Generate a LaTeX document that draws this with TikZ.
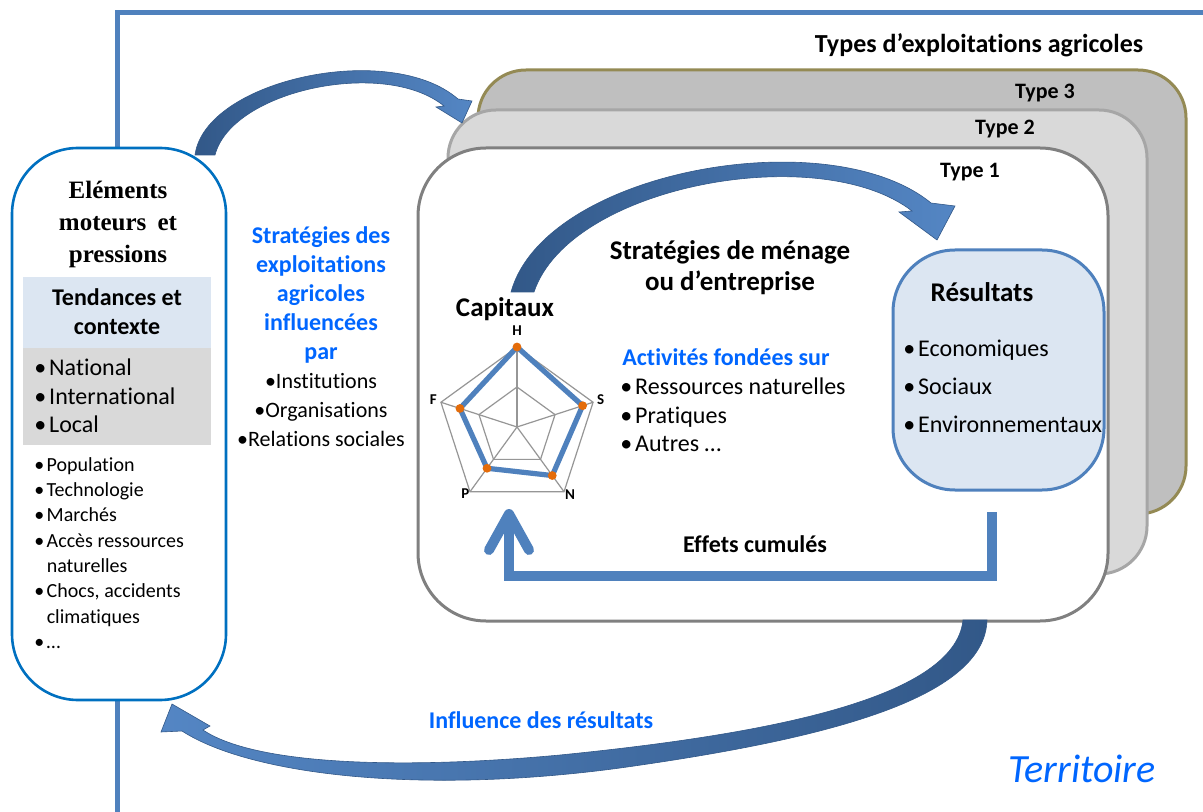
\documentclass[tikz,border=0pt]{standalone}
\usepackage{fontspec}
\setmainfont{Carlito}[Ligatures=NoCommon]
\newfontfamily\serifhead{Liberation Serif}
\usetikzlibrary{positioning, arrows.meta}

\definecolor{frameblue}{RGB}{79,129,189}
\definecolor{boxblue}{RGB}{0,112,192}
\definecolor{paleblue}{RGB}{220,230,242}
\definecolor{textblue}{RGB}{0,102,255}
\definecolor{ribbondark}{RGB}{50,88,136}
\definecolor{ribbonlight}{RGB}{84,134,196}
\definecolor{olive}{RGB}{148,138,84}
\definecolor{greythree}{RGB}{191,191,191}
\definecolor{greytwo}{RGB}{217,217,217}
\definecolor{greyline}{RGB}{166,166,166}
\definecolor{greyone}{RGB}{128,128,128}
\definecolor{gridgrey}{RGB}{150,150,150}
\definecolor{markorange}{RGB}{228,108,10}

\newcommand\sz[2]{\fontsize{#1}{#2}\selectfont}
\newcommand\bul{\textbullet\hspace{0.12em}}

\begin{document}
\begin{tikzpicture}[x=0.5pt, y=-0.5pt,
  lbl/.style={inner sep=0pt},
  head/.style={lbl, font=\sz{12}{14.5}\bfseries},
  bighead/.style={lbl, font=\sz{13.5}{15}\bfseries},
  body/.style={lbl, font=\sz{12}{14.2}, align=left},
  bluetext/.style={text=textblue},
  typebox/.style={line width=1.5pt, rounded corners=24pt},
  axis/.style={draw=gridgrey, line width=0.6pt},
  axislabel/.style={lbl, font=\sz{7.5}{9}\bfseries},
  flow/.style={draw=frameblue, line width=5pt,
    -{Straight Barb[length=18pt, width=20pt, round]}},
  ribbon/.style={draw=ribbondark, line width=0.3pt,
    left color=ribbondark, right color=ribbonlight}]
\useasboundingbox (0,0) rectangle (1203,812);

% territory frame
\draw[frameblue, line width=2.5pt] (117,816) -- (117,13) -- (1207,13);
\node[lbl, font=\sz{20}{24}\itshape, text=textblue] (territory) at (1082,769) {Territoire};

% farm types, stacked
\draw[typebox, draw=olive, fill=greythree] (478,70) rectangle (1186,514);
\draw[typebox, draw=greyline, fill=greytwo] (448,110) rectangle (1147,574);
\draw[typebox, draw=greyone, fill=white, rounded corners=34pt] (418,148) rectangle (1108,621);
\node[lbl, font=\sz{13}{15}\bfseries] (types) at (979,45) {Types d’exploitations agricoles};
\node[head, font=\sz{11}{13}\bfseries] (type3) at (1045,93) {Type 3};
\node[head, font=\sz{11}{13}\bfseries] (type2) at (1005,129) {Type 2};
\node[head, font=\sz{11}{13}\bfseries] (type1) at (970,172) {Type 1};

% drivers and pressures
\draw[boxblue, line width=1.3pt, fill=white, rounded corners=33pt] (12,148) rectangle (226,700);
\fill[paleblue] (23,277) rectangle (211,348);
\fill[greytwo] (23,348) rectangle (211,445);
\node[lbl, font=\serifhead\sz{12.5}{16}\bfseries, align=center] (drivers) at (118,224)
  {Eléments\\moteurs\hspace{0.45em}et\\pressions};
\node[head, align=center] (trends) at (117,312) {Tendances et\\contexte};
\node[body, font=\sz{12}{14.25}, anchor=west] (scales) at (34,396)
  {\bul National\\\bul International\\\bul Local};
\node[body, font=\sz{10}{12.65}, anchor=west] (factors) at (34,553)
  {\bul Population\\\bul Technologie\\\bul Marchés\\\bul Accès ressources\\
   \phantom{\bul}naturelles\\\bul Chocs, accidents\\\phantom{\bul}climatiques\\\bul …};

% strategies under influence
\node[head, bluetext, align=center] (influence) at (321,295)
  {Stratégies des\\exploitations\\agricoles\\influencées\\par};
\node[lbl, font=\sz{11}{14.3}, align=center] (actors) at (321,410)
  {\textbullet Institutions\\\textbullet Organisations\\\textbullet Relations sociales};

% household strategies and activities
\node[lbl, font=\sz{13.5}{15.5}\bfseries, align=center] (strategy) at (730,268)
  {Stratégies de ménage\\ou d’entreprise};
\node[head, bluetext, anchor=west] (activities) at (622,357) {Activités fondées sur};
\node[body, font=\sz{12}{14.15}, anchor=west] (activitylist) at (620,415)
  {\bul Ressources naturelles\\\bul Pratiques\\\bul Autres …};

% capital pentagon
\node[bighead] (capital) at (505,309) {Capitaux};
\begin{scope}[shift={(517,427)}, y=0.5pt]
  \foreach \r in {40,80}
    \draw[axis] (90:\r) -- (18:\r) -- (-54:\r) -- (234:\r) -- (162:\r) -- cycle;
  \foreach \a in {90,18,-54,234,162}
    \draw[axis] (0,0) -- (\a:80);
  \draw[frameblue, line width=2.6pt, line join=round]
    (90:80) -- (18:69) -- (-54:60) -- (234:51) -- (162:60) -- cycle;
  \foreach \a/\r in {90/80, 18/69, -54/60, 234/51, 162/60}
    \fill[markorange] (\a:\r) circle (2.2pt);
  \foreach \a/\r/\t in {90/96/H, 18/88/S, -52/86/N, 232/84/P, 162/88/F}
    \node[axislabel] (cap\t) at (\a:\r) {\t};
\end{scope}

% outcomes
\draw[frameblue, line width=1.5pt, fill=paleblue, rounded corners=31pt] (893,250) rectangle (1104,490);
\node[bighead] (results) at (982,292) {Résultats};
\node[body, font=\sz{12}{19}, anchor=west] (outcomes) at (903,386)
  {\bul Economiques\\\bul Sociaux\\\bul Environnementaux};

% cumulated effects loop
\coordinate (loopstart) at (992,512);
\coordinate (loopend) at (509,509);
\draw[flow] (loopstart) -- ++(0,64) -| (loopend);
\node[head] (cumul) at (755,544) {Effets cumulés};

% curved block arrows
\draw[ribbon] (195,155) .. controls (205,80) and (390,40) .. (458,99)
  -- (472,101) -- (462,123) -- (436,107) -- (444,106)
  .. controls (385,58) and (232,90) .. (215,155) -- cycle;
\draw[ribbon] (511,292) .. controls (545,170) and (830,120) .. (931,203)
  -- (955,206) -- (937,240) -- (899,212) -- (912,211)
  .. controls (820,140) and (570,185) .. (534,292) -- cycle;
\draw[ribbon, left color=ribbonlight, right color=ribbondark]
  (987,620) .. controls (985,700) and (820,740) .. (620,768)
  .. controls (420,795) and (250,775) .. (182,731)
  -- (161,732) -- (172,704) -- (210,726) -- (203,730)
  .. controls (260,768) and (420,768) .. (560,755)
  .. controls (760,735) and (955,700) .. (963,620) -- cycle;
\node[head, bluetext] (feedback) at (541,720) {Influence des résultats};
\end{tikzpicture}
\end{document}
